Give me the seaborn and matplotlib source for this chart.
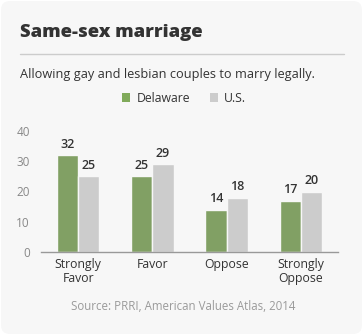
import matplotlib
matplotlib.use("Agg")
import matplotlib.pyplot as plt
import seaborn as sns
import pandas as pd
from matplotlib.patches import FancyBboxPatch, Patch
from matplotlib.lines import Line2D

categories = ["Strongly\nFavor", "Favor", "Oppose", "Strongly\nOppose"]
delaware = [32, 25, 14, 17]
us = [25, 29, 18, 20]
series_names = ["Delaware", "U.S."]
yticks = [0, 10, 20, 30, 40]

df = pd.DataFrame({
    "category": categories * 2,
    "value": delaware + us,
    "series": [series_names[0]] * 4 + [series_names[1]] * 4,
})

sns.set_theme(style="white")
plt.rcParams["font.family"] = ["Open Sans", "DejaVu Sans"]

W, H = 363, 335
fig = plt.figure(figsize=(W / 100, H / 100), dpi=100)
fig.patch.set_facecolor("white")

card = FancyBboxPatch((0.003, 0.003), 0.994, 0.994,
                      boxstyle="round,pad=0,rounding_size=0.025",
                      transform=fig.transFigure, facecolor="#f7f7f7",
                      edgecolor="none", zorder=-10)
fig.patches.append(card)

ax = fig.add_axes([41 / W, 1 - 252 / H, (338 - 41) / W, (252 - 131) / H])
ax.set_facecolor("none")

green = "#80aa5a"
gray = "#cccccc"
sns.barplot(data=df, x="category", y="value", hue="series",
            palette=[green, gray], width=0.57, ax=ax,
            edgecolor="#f7f7f7", linewidth=1.0, legend=False)

for cont in ax.containers:
    ax.bar_label(cont, padding=3, fontsize=9, color="#333333",
                 fontweight="semibold")

ax.set_ylim(0, 40)
ax.set_xlim(-0.5, 3.5)
ax.set_yticks(yticks)
ax.set_yticklabels([str(t) for t in yticks], fontsize=8.5, color="#888888")
ax.tick_params(axis="y", length=0, pad=8)
ax.tick_params(axis="x", length=0, pad=4, labelsize=8.8, labelcolor="#333333")
ax.set_xlabel("")
ax.set_ylabel("")
for s in ["top", "right", "left"]:
    ax.spines[s].set_visible(False)
ax.spines["bottom"].set_color("#999999")
ax.spines["bottom"].set_linewidth(1)
for lbl in ax.get_xticklabels():
    lbl.set_linespacing(1.1)

fig.text(20 / W, 1 - 37 / H, "Same-sex marriage", fontsize=13.3,
         fontweight="heavy", color="#333333", ha="left", va="baseline")
fig.add_artist(Line2D([20 / W, 344 / W], [1 - 53.5 / H, 1 - 53.5 / H],
                      transform=fig.transFigure, color="#cccccc", lw=1))
fig.text(20 / W, 1 - 78 / H,
         "Allowing gay and lesbian couples to marry legally.",
         fontsize=9.15, color="#333333", ha="left", va="baseline")

handles = [Patch(facecolor=green, edgecolor="none"),
           Patch(facecolor=gray, edgecolor="none")]
fig.legend(handles, series_names, loc="center", ncol=2,
           bbox_to_anchor=(184 / W, 1 - 98 / H), frameon=False,
           fontsize=8.8, handlelength=0.7, handleheight=0.7,
           handletextpad=0.5, columnspacing=1.6,
           labelcolor="#333333")

fig.text(183 / W, 1 - 310 / H, "Source: PRRI, American Values Atlas, 2014",
         fontsize=8.3, color="#9a9a9a", ha="center", va="baseline")

fig.savefig("out.png", dpi=100, facecolor="white")
